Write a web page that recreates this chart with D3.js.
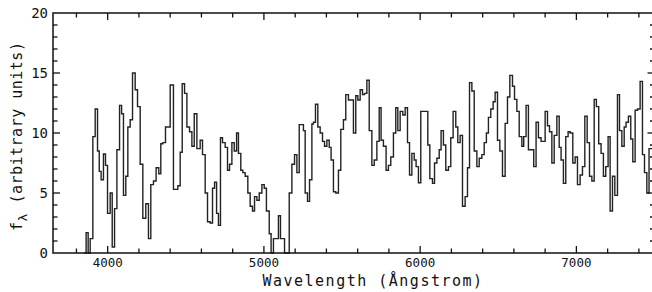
<!DOCTYPE html>
<html>
<head>
<meta charset="utf-8">
<script src="https://cdn.jsdelivr.net/npm/d3@7"></script>
<style>
    body { margin: 0; background: #fff; }
    .tick-label { font-family: "DejaVu Sans Mono", monospace; font-size: 12.5px; fill: #111; }
    .axis-title { font-family: "DejaVu Sans Mono", monospace; font-size: 15px; fill: #111; }
</style>
</head>
<body>
<div class="item-spectrum"></div>
<script>
// step start wavelengths (Angstrom) and flux
const wavelength = [
    3850, 3862, 3875, 3888, 3905, 3920, 3935, 3946, 3958, 3973, 3986, 3999, 4016, 4029, 4044, 4059,
    4076, 4089, 4101, 4116, 4129, 4144, 4159, 4176, 4191, 4208, 4225, 4244, 4261, 4276, 4293, 4310,
    4327, 4340, 4353, 4370, 4400, 4421, 4449, 4464, 4477, 4492, 4507, 4524, 4539, 4554, 4571, 4592,
    4607, 4624, 4639, 4656, 4671, 4684, 4697, 4709, 4722, 4735, 4752, 4767, 4780, 4795, 4810, 4825,
    4837, 4852, 4865, 4880, 4897, 4912, 4927, 4940, 4955, 4970, 4987, 5002, 5016, 5034, 5046, 5061,
    5093, 5106, 5132, 5162, 5179, 5196, 5211, 5226, 5253, 5264, 5279, 5292, 5307, 5317, 5330, 5345,
    5360, 5375, 5388, 5403, 5418, 5430, 5445, 5460, 5477, 5492, 5509, 5524, 5541, 5573, 5588, 5601,
    5616, 5631, 5644, 5659, 5674, 5691, 5706, 5723, 5738, 5750, 5765, 5782, 5797, 5812, 5829, 5844,
    5857, 5872, 5889, 5904, 5919, 5932, 5947, 5962, 5974, 5989, 6004, 6049, 6062, 6079, 6092, 6107,
    6122, 6134, 6149, 6164, 6181, 6196, 6211, 6228, 6241, 6256, 6271, 6288, 6303, 6316, 6331, 6346,
    6363, 6378, 6395, 6410, 6424, 6437, 6452, 6467, 6480, 6495, 6510, 6527, 6544, 6559, 6574, 6591,
    6604, 6619, 6634, 6651, 6663, 6678, 6693, 6727, 6742, 6757, 6774, 6800, 6815, 6828, 6843, 6858,
    6875, 6890, 6902, 6917, 6932, 6947, 6960, 6977, 6992, 7007, 7024, 7039, 7054, 7069, 7084, 7099,
    7114, 7128, 7143, 7158, 7173, 7188, 7203, 7216, 7231, 7246, 7263, 7276, 7291, 7306, 7318, 7333,
    7348, 7361, 7376, 7391, 7408, 7423, 7436, 7451, 7465
];
const flux = [
    0, 1.7, 0, 1.2, 9.7, 12.0, 8.5, 6.8, 6.1, 8.25, 7.3, 3.3, 5.0, 0.5, 3.7, 8.6,
    12.3, 11.6, 4.8, 6.4, 10.5, 11.1, 15.0, 13.6, 12.2, 7.4, 2.9, 4.1, 1.2, 5.7, 6.0, 7.1,
    6.6, 9.1, 9.2, 10.5, 14.0, 5.3, 5.6, 8.4, 14.1, 13.3, 10.5, 10.1, 8.9, 11.6, 8.7, 9.4,
    8.2, 5.0, 2.6, 2.5, 5.4, 5.9, 3.3, 2.3, 9.6, 9.2, 8.8, 6.9, 7.4, 9.2, 8.5, 10.0,
    8.3, 6.9, 6.7, 6.4, 5.0, 3.9, 3.5, 4.7, 4.4, 5.0, 5.7, 5.4, 3.5, 1.6, 0, 1.2,
    3.1, 1.2, 0, 5.0, 7.4, 8.2, 6.7, 10.7, 10.2, 5.0, 4.3, 6.1, 10.75, 10.9, 12.4, 10.5,
    10.0, 9.3, 8.9, 9.4, 8.8, 7.75, 5.1, 5.0, 6.9, 10.3, 11.1, 13.2, 12.75, 10.0, 13.1, 12.75,
    13.6, 13.2, 13.3, 14.4, 10.2, 7.3, 7.75, 9.3, 12.1, 9.4, 8.9, 6.9, 7.3, 8.0, 10.0, 12.1,
    10.2, 11.8, 11.5, 12.1, 9.2, 6.5, 8.3, 7.75, 7.2, 5.85, 11.8, 9.0, 6.2, 5.8, 7.5, 7.9,
    8.6, 10.2, 9.0, 6.9, 7.2, 9.6, 11.8, 10.5, 9.2, 9.8, 3.9, 4.7, 7.1, 14.2, 13.5, 8.5,
    7.2, 7.9, 8.2, 9.2, 10.0, 11.3, 12.0, 12.6, 13.4, 9.4, 8.5, 6.4, 10.8, 13.0, 14.8, 13.9,
    12.8, 11.8, 9.7, 8.9, 9.7, 12.3, 8.6, 7.2, 10.9, 9.6, 9.3, 11.8, 10.6, 10.1, 7.5, 9.8,
    11.4, 8.8, 7.75, 5.8, 9.7, 10.1, 10.0, 7.5, 8.0, 5.7, 6.5, 7.2, 11.4, 9.2, 6.4, 6.0,
    12.8, 12.2, 9.1, 8.3, 6.4, 7.2, 9.7, 3.5, 6.4, 4.8, 13.2, 10.2, 8.9, 10.5, 10.9, 11.4,
    9.5, 7.6, 11.9, 12.0, 14.3, 8.2, 6.7, 5.0, 8.7
];
const xMajorTicks = [4000, 5000, 6000, 7000];
const yMajorTicks = [0, 5, 10, 15, 20];

const width = 652;
const height = 292;
const plotLeft = 53, plotRight = 654.5, plotTop = 13, plotBottom = 253;

let svg = d3.select(".item-spectrum").append("svg")
    .attr("width", width)
    .attr("height", height);

let x = d3.scaleLinear().domain([3650, 7500]).range([plotLeft, plotRight]);
let y = d3.scaleLinear().domain([0, 20]).range([plotBottom, plotTop]);

// spectrum as a step line, last step runs to the edge
let points = wavelength.map((w, i) => [w, flux[i]]);
points.push([7500, flux[flux.length - 1]]);

let line = d3.line()
    .x(d => x(d[0]))
    .y(d => y(d[1]))
    .curve(d3.curveStepAfter);

svg.append("path")
    .datum(points)
    .attr("d", line)
    .attr("fill", "none")
    .attr("stroke", "#222")
    .attr("stroke-width", 1.4)
    .attr("stroke-linejoin", "miter");

// frame
svg.append("rect")
    .attr("x", plotLeft).attr("y", plotTop)
    .attr("width", plotRight - plotLeft).attr("height", plotBottom - plotTop)
    .attr("fill", "none")
    .attr("stroke", "#111")
    .attr("stroke-width", 1.5);

// ticks pointing inward on all four sides
const xMinor = d3.range(3800, 7500, 200);
const yMinor = d3.range(1, 20, 1);
let ticks = svg.append("g").attr("stroke", "#111").attr("stroke-width", 1.3);

xMinor.forEach(v => {
    const len = xMajorTicks.includes(v) ? 7 : 4.5;
    ticks.append("line").attr("x1", x(v)).attr("x2", x(v)).attr("y1", plotBottom).attr("y2", plotBottom - len);
    ticks.append("line").attr("x1", x(v)).attr("x2", x(v)).attr("y1", plotTop).attr("y2", plotTop + len);
});
yMinor.forEach(v => {
    const len = yMajorTicks.includes(v) ? 7 : 4.5;
    ticks.append("line").attr("y1", y(v)).attr("y2", y(v)).attr("x1", plotLeft).attr("x2", plotLeft + len);
    ticks.append("line").attr("y1", y(v)).attr("y2", y(v)).attr("x1", plotRight).attr("x2", plotRight - len);
});

svg.append("g")
    .selectAll("text")
    .data(xMajorTicks)
    .join("text")
    .classed("tick-label", true)
    .attr("x", d => x(d))
    .attr("y", 267)
    .attr("text-anchor", "middle")
    .text(d => d);

svg.append("g")
    .selectAll("text")
    .data(yMajorTicks)
    .join("text")
    .classed("tick-label", true)
    .style("font-size", "14px")
    .attr("x", 48)
    .attr("y", d => y(d) + 5)
    .attr("text-anchor", "end")
    .text(d => d);

svg.append("text")
    .classed("axis-title", true)
    .attr("x", 373)
    .attr("y", 286)
    .attr("text-anchor", "middle")
    .style("letter-spacing", "1.5px")
    .text("Wavelength (Ångstrom)");

let ylab = svg.append("text")
    .classed("axis-title", true)
    .attr("transform", "translate(22, 231) rotate(-90)")
    .style("letter-spacing", "0.5px");
ylab.append("tspan").text("f");
ylab.append("tspan").attr("dy", 5).style("font-size", "13px").text("λ");
ylab.append("tspan").attr("dy", -5).text(" (arbitrary units)");
</script>
</body>
</html>
